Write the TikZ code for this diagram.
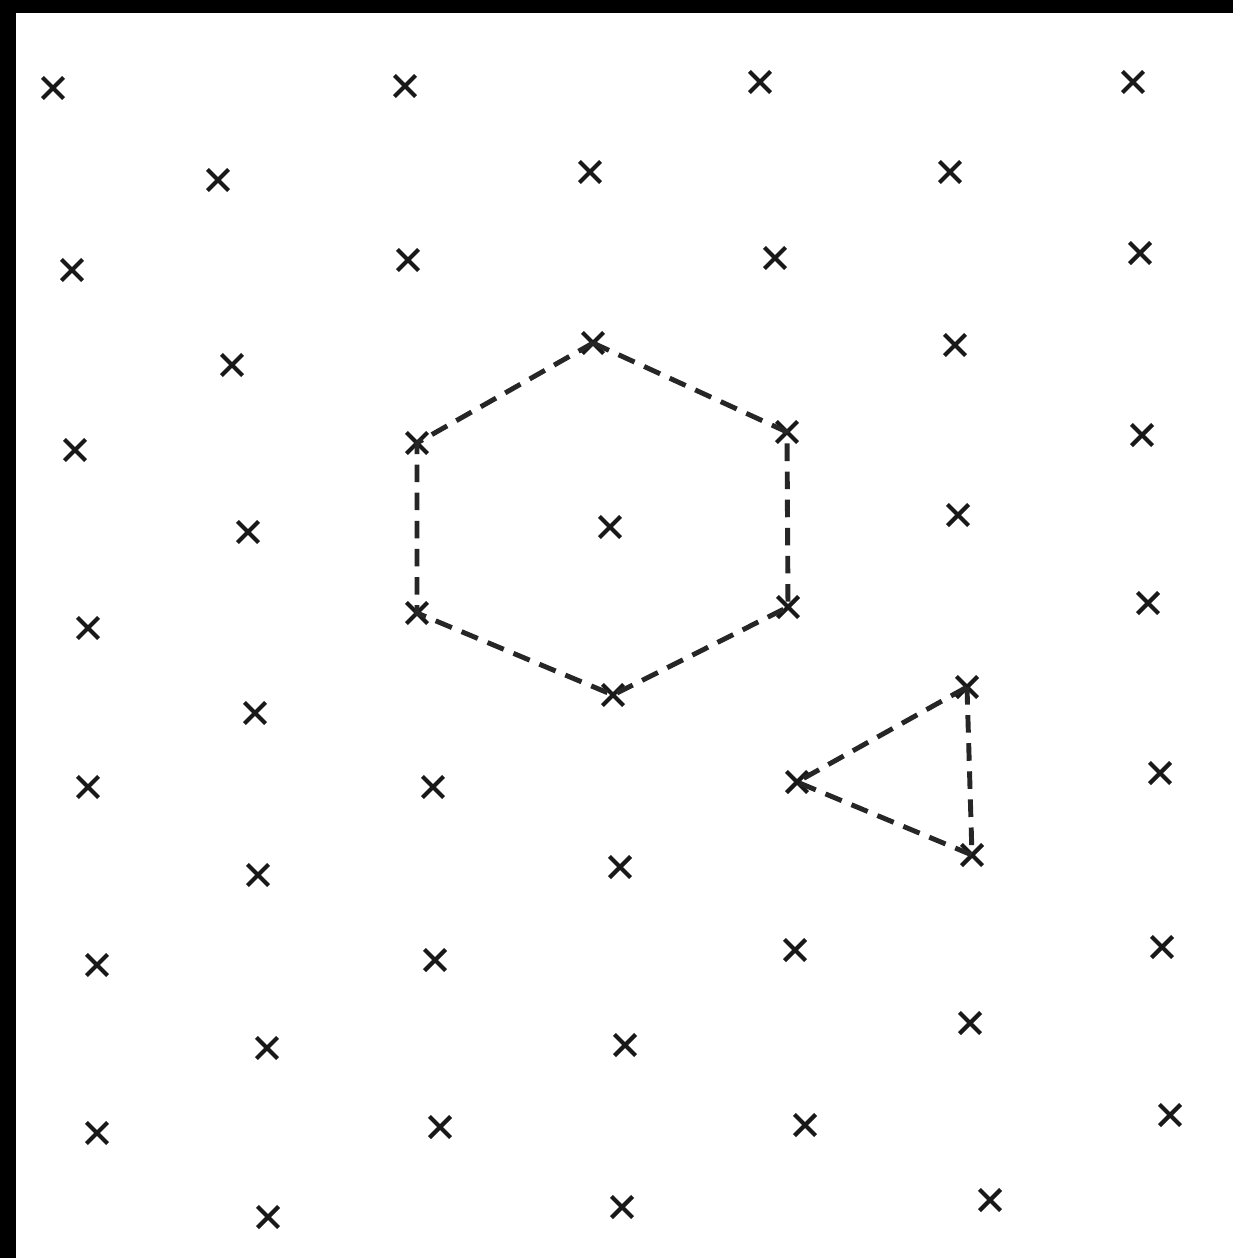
\documentclass[tikz,border=0pt]{standalone}
\usetikzlibrary{shapes.misc}
\begin{document}
\begin{tikzpicture}[x=0.02cm,y=-0.02cm,
  mk/.style={cross out,draw=black!90,line width=2.4pt,minimum size=0.34cm,inner sep=0pt},
  dline/.style={draw=black!85,line width=2.8pt,dash pattern=on 10pt off 6pt}]
\useasboundingbox (0,0) rectangle (1233,1258);
\fill[white] (0,0) rectangle (1233,1258);
\fill[black] (0,0) rectangle (1233,13);
\fill[black] (0,0) rectangle (16,1258);
% lattice marks
\foreach \n/\x/\y in {
 a1/53/88, a2/405/86, a3/760/82, a4/1133/82,
 b1/218/180, b2/590/172, b3/950/172,
 c1/72/270, c2/408/260, c3/775/258, c4/1140/253,
 d1/232/365, d3/955/345,
 e1/75/450, e4/1142/435,
 f1/248/532, f3/958/515,
 g1/88/628, g4/1148/603,
 k1/255/713,
 l1/88/787, l2/433/787, l4/1160/773,
 m1/258/875, m2/620/867,
 n1/97/965, n2/435/960, n3/795/950, n4/1162/947,
 o1/267/1048, o2/625/1045, o3/970/1023,
 p1/97/1133, p2/440/1127, p3/805/1125, p4/1170/1115,
 q1/268/1217, q2/622/1207, q3/990/1200}
 \node[mk] (\n) at (\x,\y) {};
% hexagon vertices and centre
\node[mk] (h1) at (593,343) {};
\node[mk] (h2) at (787,432) {};
\node[mk] (h3) at (788,607) {};
\node[mk] (h4) at (613,695) {};
\node[mk] (h5) at (417,613) {};
\node[mk] (h6) at (417,443) {};
\node[mk] (hc) at (610,527) {};
% triangle vertices
\node[mk] (t1) at (967,687) {};
\node[mk] (t2) at (972,855) {};
\node[mk] (t3) at (797,782) {};
\draw[dline] (h1.center) -- (h2.center) -- (h3.center) -- (h4.center) -- (h5.center) -- (h6.center) -- cycle;
\draw[dline] (t1.center) -- (t2.center) -- (t3.center) -- cycle;
\end{tikzpicture}
\end{document}
